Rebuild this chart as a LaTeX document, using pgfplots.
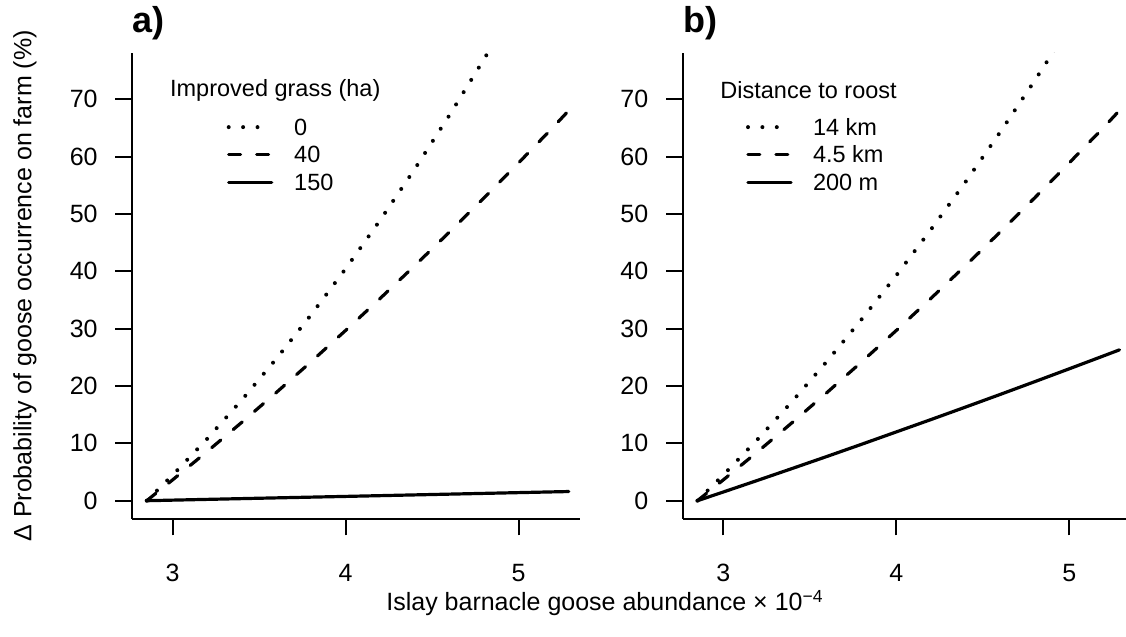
\documentclass[border=0pt]{standalone}
\usepackage{fontspec}
\setmainfont{Liberation Sans}
\usepackage{pgfplots}
\pgfplotsset{compat=1.18}

\pgfplotsset{
  goose/.style={
    scale only axis, width=224pt, height=233.15pt,
    anchor=south west,
    clip mode=individual,
    xmin=2.765, xmax=5.355, ymin=-3.19, ymax=78.14,
    axis x line*=bottom, axis y line*=left,
    axis line style={line width=1pt, -},
    xtick={3,4,5}, ytick={0,10,...,70},
    tick align=outside, major tick length=8.25pt,
    tick style={line width=1pt, black},
    /pgf/number format/assume math mode=true,
    tick label style={font=\fontsize{12.5}{15}\selectfont},
    xticklabel style={anchor=center, yshift=-18.75pt, inner sep=0pt},
    yticklabel style={anchor=east, xshift=-8.75pt, inner sep=0pt},
    legend style={draw=none, fill=none, inner sep=0pt, outer sep=0pt,
      row sep=0pt, column sep=10.25pt, anchor=north west,
      font=\fontsize{11.75}{14}\selectfont,
      nodes={inner sep=0pt, text height=11pt, text depth=2.75pt}},
    legend cell align=left,
    legend image code/.code={\draw[##1] (0pt,0pt) -- (21.5pt,0pt);},
  },
  dotline/.style={black, line width=2pt, line cap=round, dash pattern=on 0pt off 7.2pt},
  dashline/.style={black, line width=1.6pt, line cap=round, dash pattern=on 5.9pt off 8.1pt},
  solidline/.style={black, line width=1.6pt, line cap=round},
}

\begin{document}
\begin{tikzpicture}
\path[use as bounding box] (0,0) rectangle (563pt,318.5pt);

% Panel a
\begin{axis}[goose, at={(66pt,59pt)},
  legend style={at={(axis description cs:0.2114,0.8699)}},
  ylabel={Δ Probability of goose occurrence on farm (\%)},
  ylabel style={at={(axis description cs:-0.2388,0.5)}, anchor=center, font=\fontsize{12.5}{15}\selectfont},
  xlabel={Islay barnacle goose abundance × 10\textsuperscript{−4}},
  xlabel style={at={(axis description cs:1.0558,-0.1801)}, anchor=center, font=\fontsize{12.5}{15}\selectfont},
]
\addplot[dotline] coordinates {(2.85,0) (3.0,4.47) (3.2,10.81) (3.4,17.58) (3.6,24.78) (3.8,32.41) (4.0,40.46) (4.2,48.95) (4.4,57.88) (4.6,67.23) (4.8,77.01) (4.9,82.06)};
\addlegendentry{0}
\addplot[dashline] coordinates {(2.85,0) (3.0,3.64) (3.2,8.59) (3.4,13.68) (3.6,18.89) (3.8,24.23) (4.0,29.70) (4.2,35.29) (4.4,41.01) (4.6,46.85) (4.8,52.83) (5.0,58.93) (5.2,65.15) (5.285,67.9)};
\addlegendentry{40}
\addplot[solidline] coordinates {(2.85,0) (3.5,0.43) (4.0,0.75) (4.5,1.08) (5.0,1.41) (5.29,1.60)};
\addlegendentry{150}
\node[anchor=west, inner sep=0pt, font=\fontsize{11.75}{14}\selectfont] at (axis description cs:0.0842,0.9196) {Improved grass (ha)};
\node[anchor=base west, inner sep=0pt, font=\bfseries\fontsize{18}{20}\selectfont] at (axis description cs:0.0,1.044) {a)};
\end{axis}

% Panel b
\begin{axis}[goose, at={(341.35pt,59pt)},
  legend style={at={(axis description cs:0.1413,0.8699)}, column sep=10pt},
]
\addplot[dotline] coordinates {(2.85,0) (3.0,4.49) (3.2,10.77) (3.4,17.39) (3.6,24.35) (3.8,31.66) (4.0,39.30) (4.2,47.29) (4.4,55.60) (4.6,64.27) (4.8,73.28) (5.0,82.6)};
\addlegendentry{14 km}
\addplot[dashline] coordinates {(2.85,0) (3.0,3.64) (3.2,8.59) (3.4,13.68) (3.6,18.89) (3.8,24.23) (4.0,29.70) (4.2,35.29) (4.4,41.01) (4.6,46.85) (4.8,52.83) (5.0,58.93) (5.2,65.15) (5.285,67.9)};
\addlegendentry{4.5 km}
\addplot[solidline] coordinates {(2.85,0) (3.0,1.52) (3.2,3.57) (3.4,5.64) (3.6,7.73) (3.8,9.85) (4.0,12.0) (4.2,14.15) (4.4,16.33) (4.6,18.53) (4.8,20.76) (5.0,23.01) (5.2,25.28) (5.29,26.31)};
\addlegendentry{200 m}
\node[anchor=west, inner sep=0pt, font=\fontsize{11.75}{14}\selectfont] at (axis description cs:0.0833,0.9196) {Distance to roost};
\node[anchor=base west, inner sep=0pt, font=\bfseries\fontsize{18}{20}\selectfont] at (axis description cs:0.0,1.044) {b)};
\end{axis}
\end{tikzpicture}
\end{document}
